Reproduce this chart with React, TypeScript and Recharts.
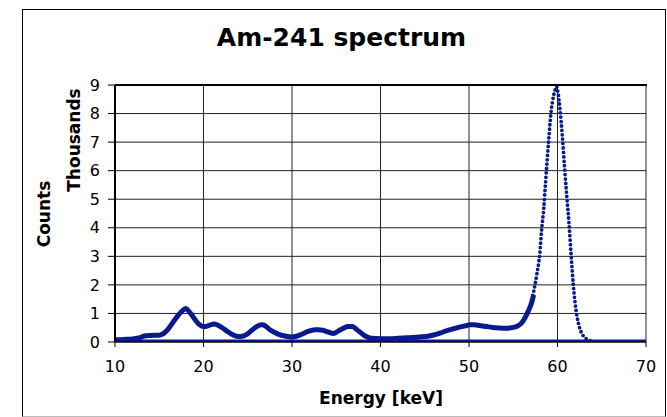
import React from "react";
import { ComposedChart, Line, XAxis, YAxis, CartesianGrid } from "recharts";

// Continuous low-energy part of the spectrum (keV, counts)
const lowEnergy = [
  10.0, 11.0, 12.0, 12.8, 13.3, 14.0, 15.0, 15.5, 16.0, 16.6, 17.0, 17.5, 18.0, 18.4, 18.7, 19.0,
  19.4, 19.8, 20.2, 20.7, 21.2, 21.7, 22.2, 22.7, 23.2, 23.9, 24.5, 24.9, 25.5, 26.0, 26.6, 27.0,
  27.5, 28.0, 28.5, 29.2, 30.0, 30.5, 31.1, 31.8, 32.6, 33.0, 33.5, 34.1, 34.7, 35.2, 35.8, 36.3,
  36.8, 37.3, 37.8, 38.2, 38.6, 39.0, 40.0, 41.0, 42.0, 43.0, 44.5, 45.5, 46.0, 46.8, 47.5, 48.2,
  48.8, 49.5, 50.1, 50.6, 51.2, 52.0, 52.7, 53.4, 54.0, 54.6, 55.0, 55.5, 55.9, 56.2, 56.5, 56.8,
  57.1, 57.3,
];
const lowCounts = [
  80, 90, 110, 150, 210, 230, 240, 300, 450, 710, 880, 1060, 1170, 1050, 940, 800,
  650, 560, 540, 590, 630, 580, 480, 370, 270, 190, 210, 270, 420, 540, 600, 560,
  430, 340, 270, 210, 175, 200, 270, 370, 430, 430, 410, 350, 300, 380, 480, 540,
  540, 440, 320, 220, 160, 130, 115, 115, 130, 150, 175, 210, 245, 320, 400, 460,
  510, 560, 600, 600, 575, 540, 510, 490, 480, 490, 510, 560, 650, 780, 950, 1150,
  1400, 1650,
];

// Main 59.5 keV photopeak (keV, counts)
const peakEnergy = [
  56.6, 57.0, 57.3, 57.65, 58.0, 58.2, 58.45, 58.65, 58.85, 59.05, 59.25, 59.45, 59.7, 59.9,
  60.05, 60.3, 60.55, 60.8, 61.05, 61.3, 61.55, 61.8, 62.15, 62.45, 62.9, 63.5, 64.0,
];
const peakCounts = [
  1050, 1350, 1750, 2350, 3100, 3900, 4700, 5600, 6450, 7250, 8000, 8450, 8800, 8950,
  8750, 8100, 7200, 6100, 5100, 4150, 3000, 1950, 1000, 550, 220, 70, 20,
];

// Zero-count baseline series
const baselineEnergy = [10, 70];
const baselineCounts = [0, 0];

const xTicks = [10, 20, 30, 40, 50, 60, 70];
const yTicks = [0, 1000, 2000, 3000, 4000, 5000, 6000, 7000, 8000, 9000];

const toRows = (es: number[], cs: number[]) => es.map((e, i) => ({ e, c: cs[i] }));
const lowData = toRows(lowEnergy, lowCounts);
const peakData = toRows(peakEnergy, peakCounts);
const baseData = toRows(baselineEnergy, baselineCounts);

const BLUE = "#0a1a8e";
const FONT = "'DejaVu Sans', Verdana, sans-serif";

export default function App() {
  return (
    <div style={{ position: "absolute", left: 0, top: 0, width: 667, height: 417, background: "#fff", fontFamily: FONT }}>
      <div
        style={{
          position: "absolute",
          left: 22,
          top: 9,
          width: 642,
          height: 406,
          borderLeft: "1px solid #000",
          borderTop: "1px solid #000",
          borderRight: "1px solid #000",
          borderBottom: "1px solid #bbb",
        }}
      />
      <div style={{ position: "absolute", left: 0, top: 0 }}>
        <ComposedChart width={667} height={417} margin={{ top: 85, right: 21, bottom: 0, left: 0 }}>
          <CartesianGrid stroke="#222" strokeWidth={1} />
          <XAxis
            type="number"
            dataKey="e"
            domain={[10, 70]}
            ticks={xTicks}
            allowDataOverflow
            height={75}
            tickSize={5}
            tickMargin={14}
            axisLine={{ stroke: "#000" }}
            tickLine={{ stroke: "#000" }}
            tick={{ fill: "#000", fontSize: 16, fontFamily: FONT }}
          />
          <YAxis
            type="number"
            dataKey="c"
            domain={[0, 9000]}
            ticks={yTicks}
            allowDataOverflow
            width={115}
            tickSize={7}
            tickMargin={8}
            tickFormatter={(v: number) => String(v / 1000)}
            axisLine={{ stroke: "#000", strokeWidth: 2 }}
            tickLine={{ stroke: "#000" }}
            tick={{ fill: "#000", fontSize: 16, fontFamily: FONT }}
          />
          <Line
            data={baseData}
            dataKey="c"
            type="linear"
            stroke={BLUE}
            strokeWidth={5}
            dot={false}
            isAnimationActive={false}
          />
          <Line
            data={lowData}
            dataKey="c"
            type="monotone"
            stroke={BLUE}
            strokeWidth={5}
            dot={false}
            isAnimationActive={false}
          />
          <Line
            data={peakData}
            dataKey="c"
            type="monotone"
            stroke={BLUE}
            strokeWidth={3.8}
            strokeDasharray="0 4.4"
            strokeLinecap="round"
            dot={false}
            isAnimationActive={false}
          />
        </ComposedChart>
      </div>
      <div style={{ position: "absolute", left: 115, top: 84, width: 532, height: 2, background: "#000" }} />
      <div
        style={{
          position: "absolute",
          left: 0,
          width: 667,
          top: 24,
          textAlign: "center",
          paddingLeft: 22,
          boxSizing: "border-box",
          fontSize: 25,
          fontWeight: "bold",
          lineHeight: "28px",
        }}
      >
        <span style={{ position: "relative", left: -3 }}>Am-241 spectrum</span>
      </div>
      <div
        style={{
          position: "absolute",
          left: 381,
          top: 398,
          transform: "translate(-50%, -50%)",
          fontSize: 17,
          fontWeight: "bold",
          whiteSpace: "nowrap",
        }}
      >
        Energy [keV]
      </div>
      <div
        style={{
          position: "absolute",
          left: 44,
          top: 214,
          transform: "translate(-50%, -50%) rotate(-90deg)",
          fontSize: 17,
          fontWeight: "bold",
          whiteSpace: "nowrap",
        }}
      >
        Counts
      </div>
      <div
        style={{
          position: "absolute",
          left: 74,
          top: 140,
          transform: "translate(-50%, -50%) rotate(-90deg)",
          fontSize: 17,
          fontWeight: "bold",
          whiteSpace: "nowrap",
        }}
      >
        Thousands
      </div>
    </div>
  );
}
